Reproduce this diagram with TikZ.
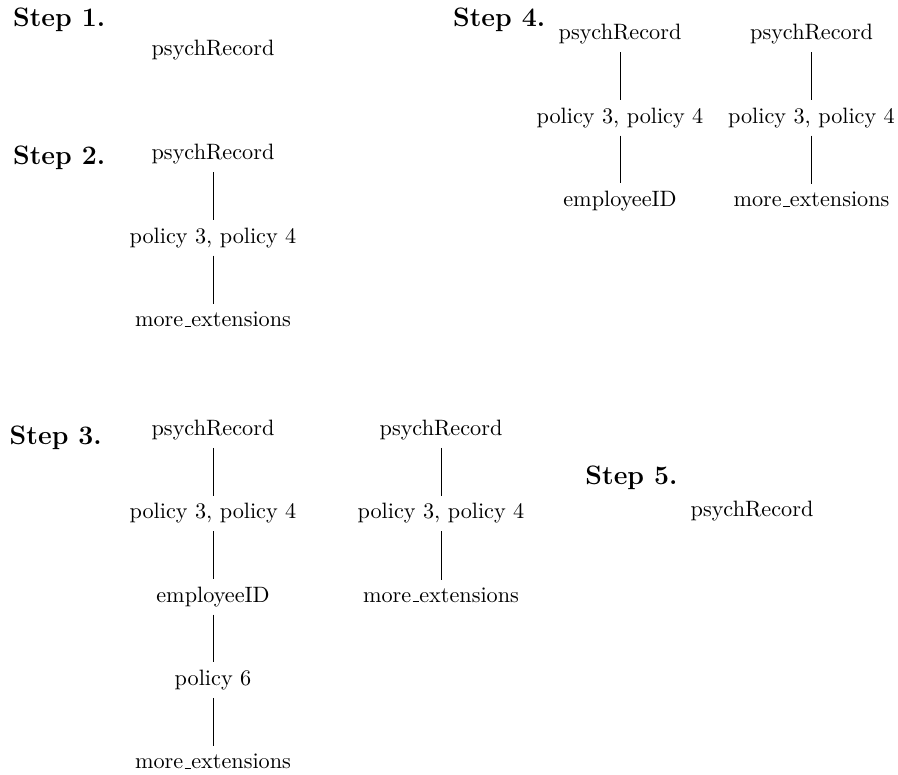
\documentclass[tikz,border=0pt]{standalone}
\usetikzlibrary{positioning}
% classic short low bar between words
\newcommand\lowbar{\leavevmode\kern.06em\vbox{\hrule width.3em}}
\tikzset{
  x=0.45pt, y=-0.45pt,
  item/.style={anchor=base, font=\normalsize},
  steplabel/.style={anchor=base west, inner sep=0pt, font=\large\bfseries},
  edge/.style={draw=black, line width=0.4pt}
}
\begin{document}
\begin{tikzpicture}
\useasboundingbox (0,0) rectangle (898,775);

% Step 1
\node[steplabel] (s1) at (12.7,27) {Step 1.};
\node[item] (a1) at (213,55.5) {psychRecord};

% Step 2
\node[steplabel] (s2) at (12.7,164.5) {Step 2.};
\node[item] (b1) at (213,159.8) {psychRecord};
\node[item] (b2) at (213,243.2) {policy 3, policy 4};
\node[item] (b3) at (213,326.5) {more\lowbar extensions};
\draw[edge] (b1) -- (b2);
\draw[edge] (b2) -- (b3);

% Step 3
\node[steplabel] (s3) at (9.3,444.8) {Step 3.};
\node[item] (c1) at (213,435.5) {psychRecord};
\node[item] (c2) at (213,518.8) {policy 3, policy 4};
\node[item] (c3) at (213,602.2) {employeeID};
\node[item] (c4) at (213,685.5) {policy 6};
\node[item] (c5) at (213,768.8) {more\lowbar extensions};
\draw[edge] (c1) -- (c2);
\draw[edge] (c2) -- (c3);
\draw[edge] (c3) -- (c4);
\draw[edge] (c4) -- (c5);

\node[item] (d1) at (441,435.5) {psychRecord};
\node[item] (d2) at (441,518.8) {policy 3, policy 4};
\node[item] (d3) at (441,602.2) {more\lowbar extensions};
\draw[edge] (d1) -- (d2);
\draw[edge] (d2) -- (d3);

% Step 4
\node[steplabel] (s4) at (452.7,27) {Step 4.};
\node[item] (e1) at (620,39.8) {psychRecord};
\node[item] (e2) at (620,123.2) {policy 3, policy 4};
\node[item] (e3) at (620,206.5) {employeeID};
\draw[edge] (e1) -- (e2);
\draw[edge] (e2) -- (e3);

\node[item] (f1) at (811.5,39.8) {psychRecord};
\node[item] (f2) at (811.5,123.2) {policy 3, policy 4};
\node[item] (f3) at (811.5,206.5) {more\lowbar extensions};
\draw[edge] (f1) -- (f2);
\draw[edge] (f2) -- (f3);

% Step 5
\node[steplabel] (s5) at (585,484.8) {Step 5.};
\node[item] (g1) at (752,517) {psychRecord};
\end{tikzpicture}
\end{document}
